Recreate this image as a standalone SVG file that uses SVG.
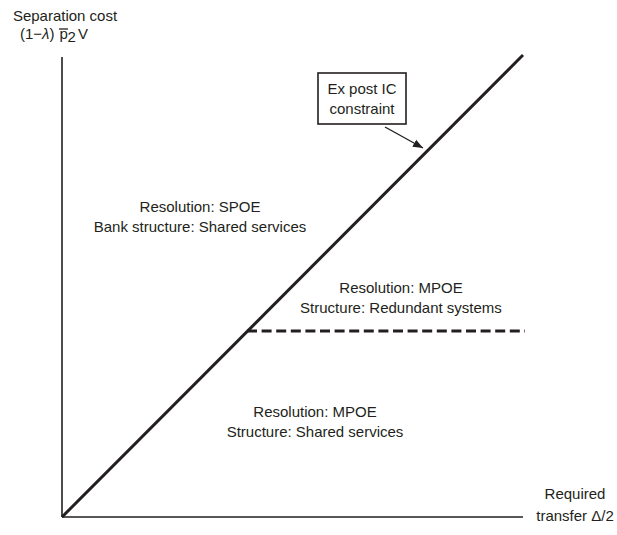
<svg xmlns="http://www.w3.org/2000/svg" width="617" height="535" viewBox="0 0 617 535">
<defs>
<style>
text{font-family:"Liberation Sans",Arial,sans-serif;font-size:15px;fill:#231f20}
.ax{stroke:#231f20;stroke-width:1.6;fill:none}
.thick{stroke:#231f20;stroke-width:3;fill:none}
</style>
<marker id="ah" viewBox="0 0 10 10" refX="10" refY="5" markerWidth="10" markerHeight="10" markerUnits="userSpaceOnUse" orient="auto">
<path d="M0,1 L10,5 L0,9 z" fill="#231f20"/>
</marker>
</defs>
<rect width="617" height="535" fill="#fff"/>
<g id="connectors">
<line class="ax" x1="62" y1="57" x2="62" y2="517"/>
<line class="ax" x1="62" y1="517" x2="523" y2="517"/>
<line class="thick" x1="62" y1="517" x2="523" y2="55"/>
<line class="thick" x1="247" y1="331" x2="525" y2="331" stroke-dasharray="10,4.6"/>
<line stroke="#231f20" stroke-width="1.4" x1="385" y1="127" x2="423" y2="148" marker-end="url(#ah)"/>
</g>
<g id="yaxis-label">
<text x="65" y="21" text-anchor="middle" font-size="16.5">Separation cost</text>
<text x="20" y="39" font-size="16">(1−<tspan font-style="italic">λ</tspan>)</text>
<text x="59.5" y="39" font-size="16">p</text>
<text x="67.5" y="42" font-size="11.5">2</text>
<text x="78" y="39" font-size="16">V</text>
<line x1="59" y1="29" x2="68" y2="29" stroke="#231f20" stroke-width="1.3"/>
</g>
<g id="xaxis-label">
<text x="575" y="499" text-anchor="middle">Required</text>
<text x="575" y="521" text-anchor="middle">transfer Δ/2</text>
</g>
<g id="ic-box">
<rect x="318" y="73" width="88" height="51" fill="#fff" stroke="#231f20" stroke-width="1.6"/>
<text x="362" y="94" text-anchor="middle" font-size="15.5">Ex post IC</text>
<text x="362" y="114" text-anchor="middle" font-size="15.5">constraint</text>
</g>
<g id="region-spoe">
<text x="200" y="212" text-anchor="middle">Resolution: SPOE</text>
<text x="200" y="232" text-anchor="middle">Bank structure: Shared services</text>
</g>
<g id="region-mpoe-redundant">
<text x="401" y="293" text-anchor="middle">Resolution: MPOE</text>
<text x="401" y="313" text-anchor="middle">Structure: Redundant systems</text>
</g>
<g id="region-mpoe-shared">
<text x="315" y="417" text-anchor="middle">Resolution: MPOE</text>
<text x="315" y="437" text-anchor="middle">Structure: Shared services</text>
</g>
</svg>
